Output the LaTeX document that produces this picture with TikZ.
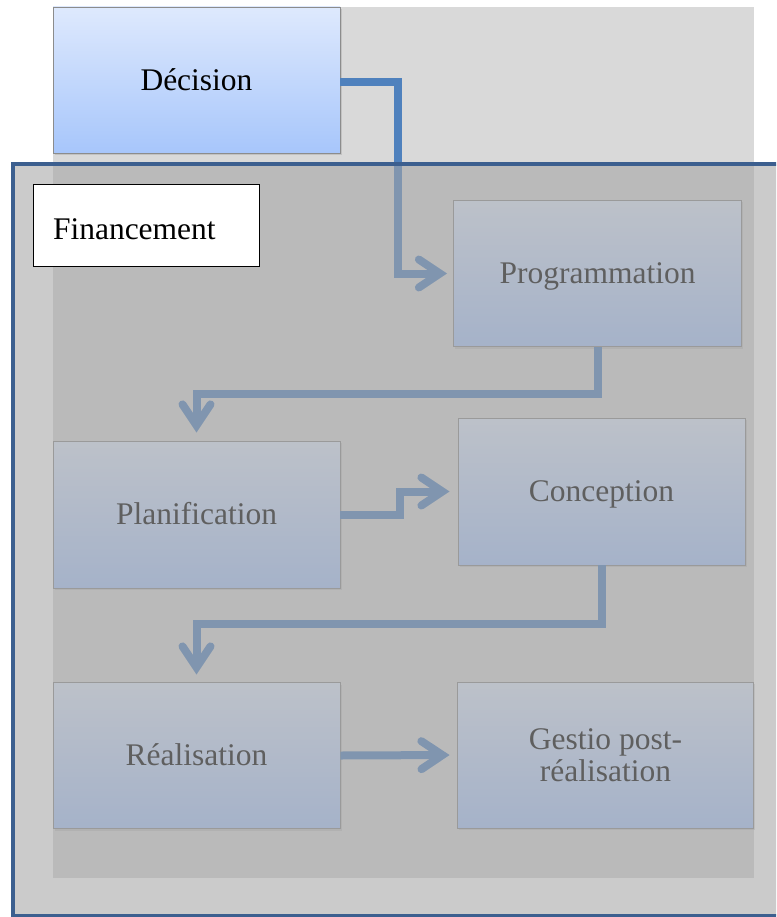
\documentclass[tikz,border=0pt]{standalone}
\usepackage{fontspec}
\setmainfont{Liberation Serif}
\usetikzlibrary{arrows.meta,shadows}

\definecolor{panelgray}{HTML}{D9D9D9}
\definecolor{veilgray}{HTML}{A5A5A5}
\definecolor{framebl}{HTML}{3C5F8F}
\definecolor{linkbl}{HTML}{4F81BD}
\definecolor{boxtop}{HTML}{DEE9FD}
\definecolor{boxbot}{HTML}{A7C6FB}
\definecolor{boxedge}{HTML}{8C8C8C}

\begin{document}
\begin{tikzpicture}[x=1pt,y=-1pt,
  stage/.style={rectangle, draw=boxedge, line width=0.8pt,
    top color=boxtop, bottom color=boxbot, inner sep=0pt,
    minimum width=287pt, minimum height=146pt,
    font=\fontsize{31.5}{32}\selectfont, text height=20.8pt, text depth=0pt,
    align=center,
    drop shadow={shadow xshift=1.5pt, shadow yshift=-2pt, opacity=0.25}},
  link/.style={draw=linkbl, line width=8pt, line join=miter,
    -{Straight Barb[length=21pt,width=28pt,line cap=round,line join=miter]}},
]
\useasboundingbox (0,0) rectangle (776,917);
\clip (0,0) rectangle (776,917);

% light panel behind the process
\fill[panelgray] (53,7) rectangle (754,878);

% process steps
\node[stage] (dec)  at (196.5,80)    {Décision};
\node[stage, minimum width=288pt] (prog) at (597.5,273.5) {Programmation};
\node[stage, minimum height=147pt] (plan) at (196.5,514.5) {Planification};
\node[stage, minimum height=147pt] (conc) at (601.5,491.5) {Conception};
\node[stage] (real) at (196.5,755.5) {Réalisation};
\node[stage, minimum width=296pt, text height=52.8pt] (gest) at (605.5,755) {Gestio post-\\réalisation};

% elbow points of the connectors
\coordinate (k1) at (397.5,0);
\coordinate (k2) at (0,393.5);
\coordinate (k3) at (400,0);
\coordinate (k4) at (0,624);

% connectors
\draw[link, shorten >=6pt] ([yshift=-2pt]dec.east) -- ([yshift=-2pt]dec.east -| k1) -- (k1 |- prog.west) -- (prog.west);
\draw[link, shorten >=8pt] (prog.south) -- (prog.south |- k2) -- (plan.north |- k2) -- (plan.north);
\draw[link, shorten >=8pt] (plan.east) -- (k3 |- plan.east) -- (k3 |- conc.west) -- (conc.west);
\draw[link, shorten >=7.5pt] (conc.south) -- (conc.south |- k4) -- (real.north |- k4) -- (real.north);
\draw[link, shorten >=7.5pt] (real.east) -- (gest.west);

% financing frame laid over the lower steps
\fill[veilgray, fill opacity=0.58] (13,164) rectangle (800,916);
\draw[framebl, line width=4pt] (800,164) -- (13,164) -- (13,916) -- (800,916);

\node[draw=black, line width=0.8pt, fill=white, minimum width=226pt, minimum height=82pt,
  inner xsep=20pt, inner ysep=0pt, text width=186pt, align=left,
  text height=30pt, text depth=0pt, font=\fontsize{31.5}{32}\selectfont] (fin) at (146,225) {Financement};
\end{tikzpicture}
\end{document}
